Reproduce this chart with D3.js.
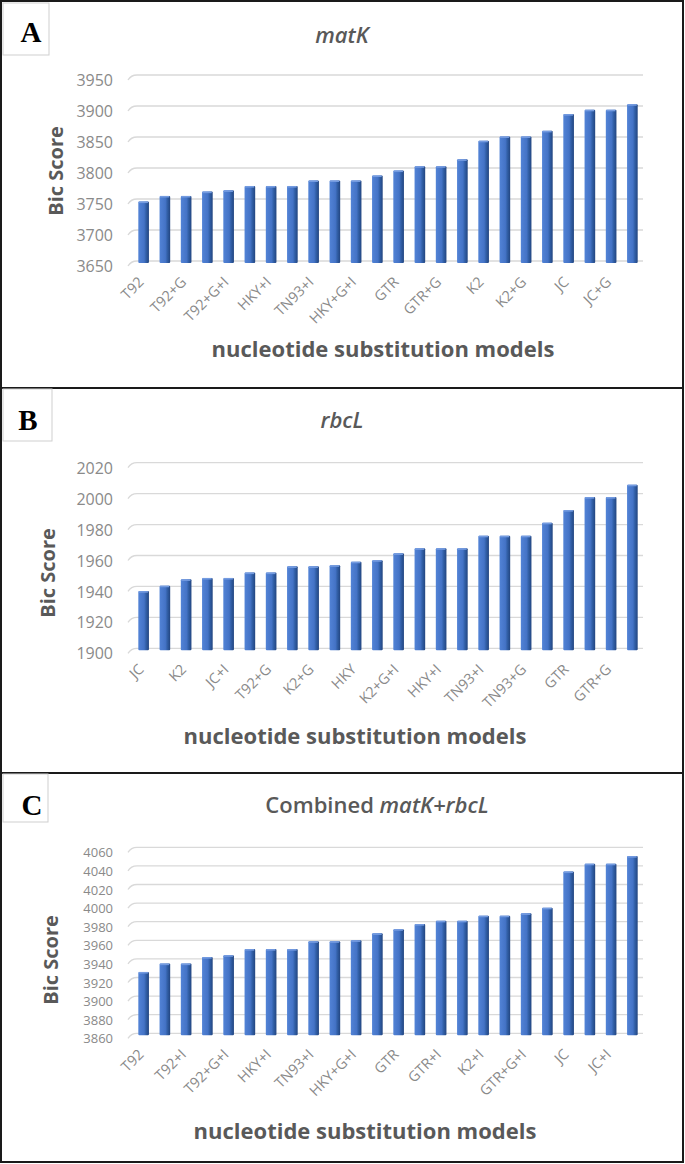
<!DOCTYPE html>
<html><head><meta charset="utf-8">
<script src="https://cdn.jsdelivr.net/npm/d3@7"></script>
<style>body{margin:0;background:#fff}svg{display:block}</style>
</head><body>
<svg id="c" width="685" height="1164"></svg>
<script>
// ---------- data ----------
const catsA = ["T92","T92+I","T92+G","HKY","T92+G+I","HKY+G","HKY+I","TN93","TN93+I","TN93+G","HKY+G+I","TN93+G+I","GTR","GTR+I","GTR+G","GTR+G+I","K2","K2+I","K2+G","K2+G+I","JC","JC+I","JC+G","JC+G+I"];
const valsA = [3746,3755,3755,3762,3764,3771,3771,3771,3780,3780,3780,3788,3796,3803,3803,3814,3844,3851,3851,3860,3887,3894,3894,3903];
const ticksA = [3650,3700,3750,3800,3850,3900,3950];

const catsB = ["JC","T92","K2","JC+G","JC+I","K2+I","T92+G","T92+I","K2+G","JC+G+I","HKY","T92+G+I","K2+G+I","HKY+G","HKY+I","TN93","TN93+I","HKY+G+I","TN93+G","TN93+G+I","GTR","GTR+I","GTR+G","GTR+G+I"];
const valsB = [1937,1940.5,1944.6,1945.5,1945.5,1949,1949,1953,1953,1953.7,1956,1957,1961.4,1964.7,1964.7,1964.7,1972.8,1972.8,1972.8,1981.2,1989.4,1997.8,1997.8,2005.8];
const ticksB = [1900,1920,1940,1960,1980,2000,2020];

const catsC = ["T92","T92+G","T92+I","HKY","T92+G+I","HKY+G","HKY+I","TN93","TN93+I","TN93+G","HKY+G+I","TN93+G+I","GTR","K2","GTR+I","GTR+G","K2+I","K2+G","GTR+G+I","K2+G+I","JC","JC+G","JC+I","JC+G+I"];
const valsC = [3926,3935,3935,3942,3944,3950.6,3950.6,3950.6,3959,3959,3960,3967.5,3972,3977.5,3981,3981,3986.5,3986.5,3989,3995,4034,4042.4,4042.4,4050.6];
const ticksC = [3860,3880,3900,3920,3940,3960,3980,4000,4020,4040,4060];

const panelLetters = ["A","B","C"];
const axisTitleY = "Bic Score";
const axisTitleX = "nucleotide substitution models";

// ---------- layout ----------
const panels = [
  {letter:panelLetters[0], cats:catsA, vals:valsA, ticks:ticksA, tickFont:16, top:1, bottom:388, yr:[261,75],
   box:[3,3,46,52], letterPos:[31,42], title:[{t:"matK",i:true}], titleX:342, titleY:43,
   yTitle:[63,171], xTitle:[383,357]},
  {letter:panelLetters[1], cats:catsB, vals:valsB, ticks:ticksB, tickFont:16, top:388, bottom:773, yr:[648.3,462.7],
   box:[3,389,49,52], letterPos:[28,430], title:[{t:"rbcL",i:true}], titleX:342, titleY:428,
   yTitle:[55,573], xTitle:[355,744]},
  {letter:panelLetters[2], cats:catsC, vals:valsC, ticks:ticksC, tickFont:13, top:773, bottom:1162, yr:[1033.3,847.3],
   box:[3,774,45,48], letterPos:[32,815], title:[{t:"Combined ",i:false},{t:"matK+rbcL",i:true}], titleX:377, titleY:813,
   yTitle:[58,960], xTitle:[365,1139]}
];

const svg = d3.select("#c");
const defs = svg.append("defs");
const g = defs.append("linearGradient").attr("id","barGrad").attr("x1","0").attr("x2","1").attr("y1","0").attr("y2","0");
[[0,"#5283d6"],[0.55,"#4473c6"],[0.72,"#3260a8"],[1,"#224580"]].forEach(s=>g.append("stop").attr("offset",s[0]).attr("stop-color",s[1]));

const xLeft = 133, xRight = 643;
const font = "'Open Sans', 'Noto Sans', sans-serif";

panels.forEach(p=>{
  const gp = svg.append("g");
  gp.append("rect").attr("x",1).attr("y",p.top).attr("width",682).attr("height",p.bottom-p.top)
    .attr("fill","#fff").attr("stroke","#1a1a1a").attr("stroke-width",2);

  const x = d3.scaleBand().domain(p.cats).range([xLeft,xRight]).paddingInner(0.5).paddingOuter(0.25);
  const dom = d3.extent(p.ticks);
  const y = d3.scaleLinear().domain(dom).range(p.yr);

  gp.append("g").selectAll("path").data(p.ticks).join("path")
    .attr("d",d=>{const yy=y(d);return `M${xLeft-5},${yy+5} Q${xLeft-2},${yy} ${xLeft+4},${yy} L${xRight},${yy}`;})
    .attr("fill","none").attr("stroke","#d9d9d9").attr("stroke-width",1.3);

  const ya = d3.axisLeft(y).tickValues(p.ticks).tickSize(0).tickPadding(0).tickFormat(d3.format("d"));
  const yg = gp.append("g").attr("transform",`translate(113,5)`).call(ya);
  yg.select(".domain").remove();
  yg.selectAll("text").attr("font-family",font).attr("font-size",p.tickFont).attr("fill","#8a8a8a").attr("dy","0.35em");

  const bars = gp.append("g");
  const floor = y(dom[0]);
  bars.selectAll("rect.b").data(p.vals).join("rect").attr("class","b")
    .attr("x",(d,i)=>x(p.cats[i])).attr("width",x.bandwidth())
    .attr("y",d=>y(d)).attr("height",d=>floor-y(d)+2)
    .attr("rx",1).attr("fill","url(#barGrad)");
  bars.selectAll("rect.t").data(p.vals).join("rect").attr("class","t")
    .attr("x",(d,i)=>x(p.cats[i])+0.5).attr("width",x.bandwidth()-1.5)
    .attr("y",d=>y(d)).attr("height",1.6).attr("fill","#749be0");

  const xa = d3.axisBottom(x).tickSize(0).tickPadding(0)
    .tickValues(p.cats.filter((c,i)=>i%2===0));
  const xg = gp.append("g").attr("transform",`translate(1,${floor+22})`).call(xa);
  xg.select(".domain").remove();
  xg.selectAll("text").attr("font-family",font).attr("font-size",14.5).attr("fill","#8a8a8a")
    .attr("text-anchor","end").attr("dy",0).attr("y",0).attr("transform","rotate(-45)");

  const tt = gp.append("text").attr("x",p.titleX).attr("y",p.titleY).attr("text-anchor","middle")
    .attr("font-family",font).attr("font-size",22).attr("font-weight",600).attr("fill","#595959");
  p.title.forEach(s=>tt.append("tspan").text(s.t).attr("font-style",s.i?"italic":"normal"));

  gp.append("text").attr("transform",`translate(${p.yTitle[0]},${p.yTitle[1]}) rotate(-90)`)
    .attr("text-anchor","middle").attr("font-family",font).attr("font-size",20).attr("font-weight",700)
    .attr("fill","#595959").text(axisTitleY);
  gp.append("text").attr("x",p.xTitle[0]).attr("y",p.xTitle[1]).attr("text-anchor","middle")
    .attr("font-family",font).attr("font-size",22).attr("font-weight",700)
    .attr("fill","#595959").text(axisTitleX);

  gp.append("rect").attr("x",p.box[0]).attr("y",p.box[1]).attr("width",p.box[2]).attr("height",p.box[3])
    .attr("fill","#fff").attr("stroke","#cfcfcf").attr("stroke-width",1);
  gp.append("text").attr("x",p.letterPos[0]).attr("y",p.letterPos[1]).attr("text-anchor","middle")
    .attr("font-family","'Liberation Serif','DejaVu Serif',serif").attr("font-weight",700).attr("font-size",29)
    .attr("fill","#000").text(p.letter);
});
</script>
</body></html>
